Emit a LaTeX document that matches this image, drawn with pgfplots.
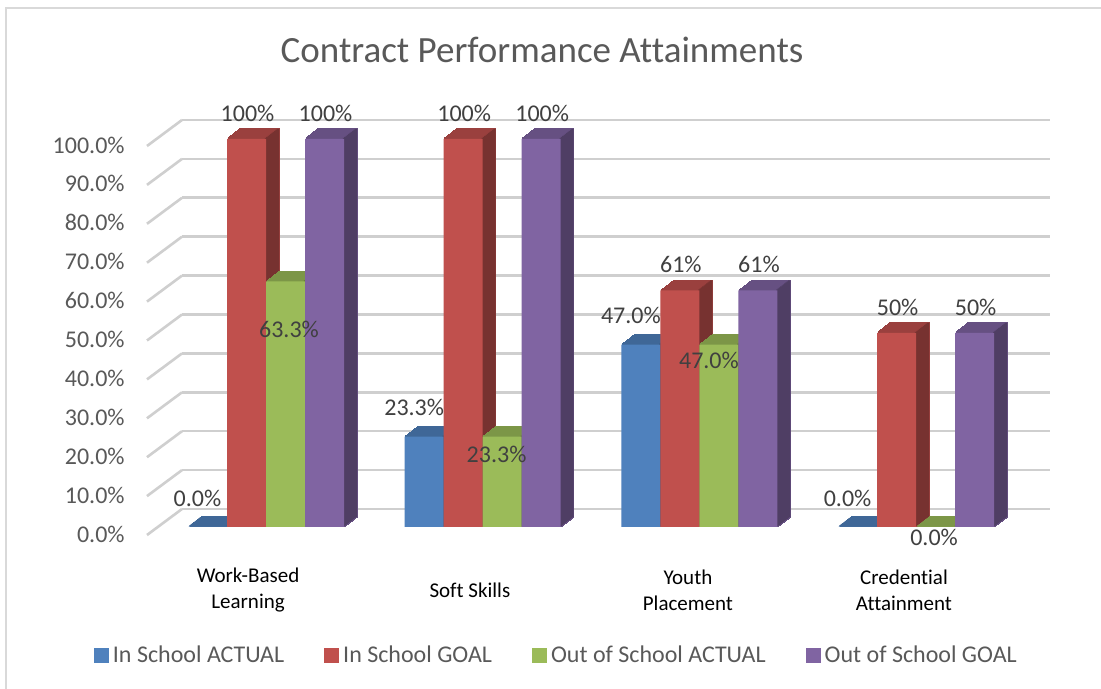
\documentclass[border=0pt]{standalone}
\usepackage{pgfplots}
\pgfplotsset{compat=1.18}
\usepackage{pgfplotstable}
\usepackage{fontspec}
\setmainfont{Carlito}[Ligatures={NoCommon}]
\definecolor{blueF}{HTML}{4F81BD}\definecolor{blueT}{HTML}{3F6797}\definecolor{blueS}{HTML}{315075}
\definecolor{redF}{HTML}{C0504D}\definecolor{redT}{HTML}{9A403E}\definecolor{redS}{HTML}{773230}
\definecolor{greenF}{HTML}{9BBB59}\definecolor{greenT}{HTML}{7C9647}\definecolor{greenS}{HTML}{607437}
\definecolor{purpF}{HTML}{8064A2}\definecolor{purpT}{HTML}{665082}\definecolor{purpS}{HTML}{4F3E64}
\definecolor{gridc}{HTML}{CFCFCF}
\definecolor{framec}{HTML}{D9D9D9}
\definecolor{txtgray}{HTML}{595959}
\definecolor{lblgray}{HTML}{404040}
\pgfplotstableread{
x b r g p
0 0 100 63.3 100
1 23.3 100 23.3 100
2 47.0 61 47.0 61
3 0 50 0 50
}\data
% #1 column, #2 x offset (axis units), #3 top colour, #4 side colour
\newcommand{\prism}[4]{%
  \pgfplotsinvokeforeach{1,...,10}{%
    \addplot[forget plot, ybar, bar width=19.5pt, bar shift=0pt, fill=#3, draw=#3, line width=0.7pt,
      xshift=##1*0.65pt, yshift=##1*0.5pt] table[x expr=\thisrow{x}+#2,y=#1]{\data};}%
  \pgfplotsinvokeforeach{1,...,10}{%
    \addplot[forget plot, ybar, bar width=1.2pt, bar shift=9.15pt, fill=#4, draw=none,
      xshift=##1*0.65pt, yshift=##1*0.5pt] table[x expr=\thisrow{x}+#2,y=#1]{\data};}%
}
\begin{document}
\begin{tikzpicture}
\useasboundingbox (0,0) rectangle (550.5pt,344.5pt);
\fill[white] (0,0) rectangle (550.5pt,344.5pt);
\draw[framec, line width=0.8pt] (3pt,-10pt) -- (3pt,340.5pt) -- (560pt,340.5pt);
\node[font=\fontsize{18.5}{22}\selectfont, text=txtgray] at (271pt,319.5pt) {Contract Performance Attainments};
% back wall with gridlines and value axis
\begin{axis}[at={(91pt,90pt)}, anchor=south west, scale only axis,
  width=434pt, height=194.5pt, xmin=0, xmax=1, ymin=0, ymax=100,
  xtick=\empty, ytick={0,10,...,100},
  yticklabels={0.0\%,10.0\%,20.0\%,30.0\%,40.0\%,50.0\%,60.0\%,70.0\%,80.0\%,90.0\%,100.0\%},
  axis line style={draw=none}, major tick length=0pt,
  ymajorgrids, grid style={gridc, line width=1.3pt},
  yticklabel style={anchor=east, inner sep=0pt, xshift=-28.5pt, yshift=-12.5pt,
    font=\fontsize{12}{14}\selectfont, text=txtgray},
  clip=false]
\addplot[draw=none, forget plot] coordinates {(0,0) (1,100)};
\pgfplotsinvokeforeach{0,10,...,100}{\draw[gridc, line width=1.3pt] (axis cs:0,#1) -- ++(-17.5pt,-13pt);}
\end{axis}
% bars
\begin{axis}[at={(68pt,61.6pt)}, anchor=south west, scale only axis,
  width=455.05pt, height=232.8pt, xmin=-0.6, xmax=3.6, ymin=-10, ymax=110,
  axis line style={draw=none}, major tick length=0pt, ytick=\empty,
  xtick={-0.083,0.941,1.947,2.944},
  xticklabels={Work-Based\\Learning, Soft Skills, Youth\\Placement, Credential\\Attainment},
  xticklabel style={align=center, anchor=center, yshift=-12.1pt,
    font=\fontsize{10.5}{13}\selectfont, text=black},
  clip=false,
  legend style={at={(0.463,-0.1937)}, anchor=center, draw=none, fill=none,
    legend columns=4, font=\fontsize{12}{14}\selectfont, text=txtgray,
    /tikz/every even column/.append style={column sep=18pt}},
  legend image code/.code={\fill[#1] (0pt,-3.75pt) rectangle (7.5pt,3.75pt);},
  every node near coord/.append style={font=\fontsize{12}{14}\selectfont, text=lblgray, anchor=center},
]
\prism{b}{-0.27}{blueT}{blueS}
\prism{r}{-0.09}{redT}{redS}
\prism{g}{0.09}{greenT}{greenS}
\prism{p}{0.27}{purpT}{purpS}
\addplot[ybar, bar width=19.5pt, bar shift=0pt, fill=blueF, draw=none,
  nodes near coords={\pgfmathprintnumber[fixed,fixed zerofill,precision=1,assume math mode=true]{\pgfplotspointmeta}\%},
  every node near coord/.append style={xshift=-5pt, yshift=14.5pt}]
  table[x expr=\thisrow{x}-0.27,y=b]{\data};
\addlegendentry{In School ACTUAL}
\addplot[ybar, bar width=19.5pt, bar shift=0pt, fill=redF, draw=none,
  nodes near coords={\pgfmathprintnumber[fixed,precision=0,assume math mode=true]{\pgfplotspointmeta}\%},
  every node near coord/.append style={xshift=0.5pt, yshift=13pt}]
  table[x expr=\thisrow{x}-0.09,y=r]{\data};
\addlegendentry{In School GOAL}
\addplot[ybar, bar width=19.5pt, bar shift=0pt, fill=greenF, draw=none]
  table[x expr=\thisrow{x}+0.09,y=g]{\data};
\addlegendentry{Out of School ACTUAL}
\addplot[ybar, bar width=19.5pt, bar shift=0pt, fill=purpF, draw=none,
  nodes near coords={\pgfmathprintnumber[fixed,precision=0,assume math mode=true]{\pgfplotspointmeta}\%},
  every node near coord/.append style={xshift=0.5pt, yshift=13pt}]
  table[x expr=\thisrow{x}+0.27,y=p]{\data};
\addlegendentry{Out of School GOAL}
\node[font=\fontsize{12}{14}\selectfont, text=lblgray] at (axis cs:0.106,51.0) {63.3\%};
\node[font=\fontsize{12}{14}\selectfont, text=lblgray] at (axis cs:1.064,18.8) {23.3\%};
\node[font=\fontsize{12}{14}\selectfont, text=lblgray] at (axis cs:2.044,43.0) {47.0\%};
\node[font=\fontsize{12}{14}\selectfont, text=lblgray] at (axis cs:3.083,-2.8) {0.0\%};
\end{axis}
\end{tikzpicture}
\end{document}
